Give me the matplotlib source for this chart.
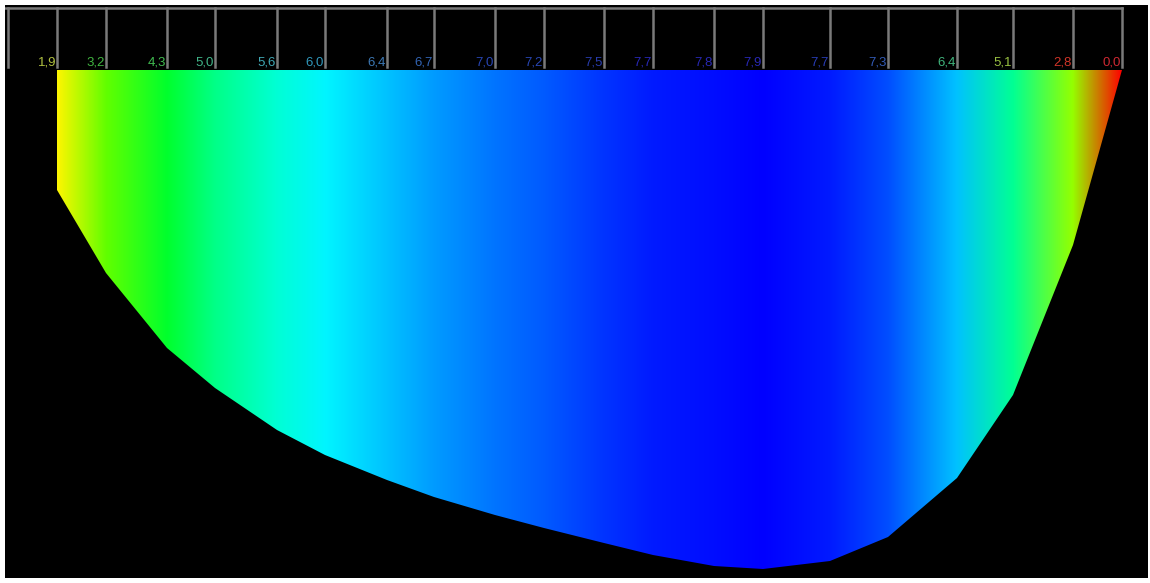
import numpy as np
import matplotlib
matplotlib.use("Agg")
import matplotlib.pyplot as plt
from matplotlib.colors import hsv_to_rgb
from matplotlib.patches import Polygon

# measuring verticals: distance from bank (m), depth (m), velocity (label value)
dist = [4.9, 9.8, 15.9, 20.7, 26.9, 31.7, 37.9, 42.6, 48.7, 53.6,
        59.6, 64.5, 70.6, 75.5, 82.2, 88.0, 94.9, 100.5, 106.5, 111.4]
depth = [1.20, 2.03, 2.78, 3.18, 3.60, 3.85, 4.10, 4.27, 4.45, 4.58,
         4.73, 4.85, 4.96, 4.99, 4.91, 4.67, 4.08, 3.25, 1.75, 0.0]
vel = [1.9, 3.2, 4.3, 5.0, 5.6, 6.0, 6.4, 6.7, 7.0, 7.2,
       7.5, 7.7, 7.8, 7.9, 7.7, 7.3, 6.4, 5.1, 2.8, 0.0]
labels = [("%.1f" % v).replace(".", ",") for v in vel]

# label colours as seen on the picture
lab_col = ["#b0c040", "#40b440", "#40bc50", "#40b488", "#40a8b4", "#3098bc",
           "#3c78b4", "#3264b4", "#2846b4", "#2846b4", "#283cac", "#2828b4",
           "#2828b4", "#2828b4", "#283cb4", "#325ab4", "#40b47c", "#98c040",
           "#d03428", "#d02832"]

W, H, dpi = 1150, 583, 100
fig = plt.figure(figsize=(W / dpi, H / dpi), dpi=dpi, facecolor="white")
ax = fig.add_axes([5 / W, 5 / H, 1143 / W, 573 / H])
ax.set_facecolor("black")
ax.set_xlim(-0.3, 114.0)
ax.set_ylim(5.08, -0.65)
ax.axis("off")
ax.add_patch(plt.Rectangle((-0.3, -0.65), 114.3, 5.73, color="black", zorder=0))

# station colours: hue from red (0) to blue (max)
vmax = max(vel)
cols = hsv_to_rgb(np.array([[2 / 3 * v / vmax, 1, 1] for v in vel]))
xs = np.linspace(dist[0], dist[-1], 2000)
grad = np.stack([np.interp(xs, dist, cols[:, k]) for k in range(3)], axis=-1)
grad = grad[np.newaxis, :, :]

im = ax.imshow(grad, extent=[dist[0], dist[-1], max(depth) + 0.1, 0],
               aspect="auto", interpolation="bilinear", zorder=1)
poly = Polygon([(dist[0], 0)] + list(zip(dist, depth)) + [(dist[-1], 0)],
               closed=True, facecolor="none", edgecolor="none")
ax.add_patch(poly)
im.set_clip_path(poly)

# top frame
gray = "#7a7a7a"
ax.plot([-0.3, dist[-1]], [-0.62, -0.62], color=gray, lw=1.8, zorder=3)
ax.plot([0, 0], [-0.62, -0.03], color=gray, lw=1.8, zorder=3)
for x, lab, c in zip(dist, labels, lab_col):
    ax.plot([x, x], [-0.62, -0.03], color=gray, lw=1.8, zorder=3)
    ax.text(x - 0.1, -0.015, lab, ha="right", va="bottom", fontsize=9.5,
            color=c, family="Liberation Sans", zorder=4)

plt.savefig("out.png", dpi=dpi, facecolor="white")
